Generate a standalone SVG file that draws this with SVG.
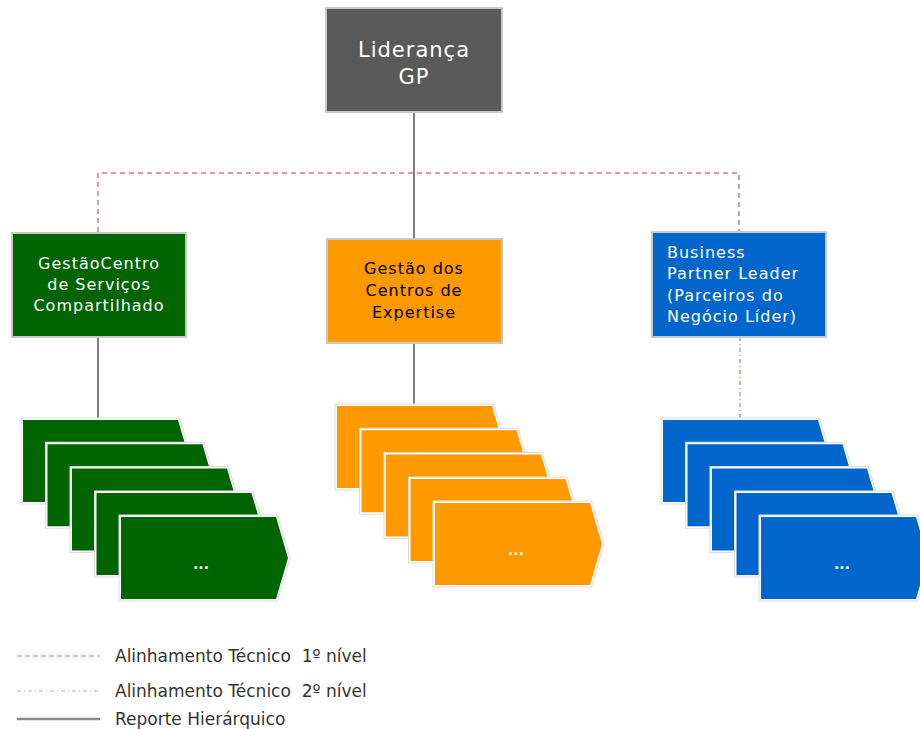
<svg xmlns="http://www.w3.org/2000/svg" xmlns:xlink="http://www.w3.org/1999/xlink" width="920" height="729" viewBox="0 0 920 729">
  <style>
    .box { stroke: #c8c8c8; stroke-width: 2; }
    .lbl { font-family: "DejaVu Sans", "Liberation Sans", sans-serif; font-size: 16px; letter-spacing: 1px; }
    .title { font-family: "DejaVu Sans", "Liberation Sans", sans-serif; font-size: 21px; letter-spacing: 1px; fill: #ffffff; text-anchor: middle; }
    .white { fill: #ffffff; }
    .black { fill: #000000; }
    .dots { font-family: "DejaVu Sans", sans-serif; font-weight: bold; font-size: 14px; fill: #ffffff; text-anchor: middle; }
    .halo { fill: none; stroke: #dcdcdc; stroke-width: 5; stroke-linejoin: miter; }
    .edge { fill: none; stroke: #ffffff; stroke-width: 3; stroke-linejoin: miter; }
    .solid { fill: none; stroke: #555555; stroke-width: 1.5; }
    .tech1 { fill: none; stroke: #c98080; stroke-width: 1.5; stroke-dasharray: 5 4; }
    .tech2 { fill: none; stroke: #8fb58f; stroke-width: 1.5; stroke-dasharray: 4 3 1 3; }
    .legend { font-family: "DejaVu Sans", "Liberation Sans", sans-serif; font-size: 17px; fill: #333333; white-space: pre; }
  </style>
  <defs>
    <!-- one pentagon card of a stack -->
    <path id="card" d="M0,0 H155 L167,41 L155,82 H0 Z"/>
  </defs>

  <rect width="920" height="729" fill="#ffffff"/>

  <!-- connectors -->
  <g id="connectors">
    <line class="solid" x1="414" y1="112" x2="414" y2="238"/>
    <polyline class="tech1" points="98,232 98,173 739,173 739,232"/>
    <line class="solid" x1="98" y1="337" x2="98" y2="420"/>
    <line class="solid" x1="414" y1="343" x2="414" y2="406"/>
    <line class="tech2" x1="740" y1="337" x2="740" y2="420"/>
  </g>

  <!-- top node -->
  <g id="lideranca">
    <rect class="box" x="326" y="8" width="176" height="104" fill="#595959"/>
    <text class="title" x="414" y="57">Liderança</text>
    <text class="title" x="414" y="84">GP</text>
  </g>

  <!-- second level -->
  <g id="csc">
    <rect class="box" x="12" y="233" width="174" height="104" fill="#006400"/>
    <text class="lbl white" text-anchor="middle" x="99" y="269">GestãoCentro</text>
    <text class="lbl white" text-anchor="middle" x="99" y="290">de Serviços</text>
    <text class="lbl white" text-anchor="middle" x="99" y="311">Compartilhado</text>
  </g>

  <g id="expertise">
    <rect class="box" x="327" y="239" width="175" height="104" fill="#ff9900"/>
    <text class="lbl black" text-anchor="middle" x="414" y="274">Gestão dos</text>
    <text class="lbl black" text-anchor="middle" x="414" y="296">Centros de</text>
    <text class="lbl black" text-anchor="middle" x="414" y="318">Expertise</text>
  </g>

  <g id="bp">
    <rect class="box" x="652" y="232" width="174" height="105" fill="#0066cc"/>
    <text class="lbl white" x="667" y="258">Business</text>
    <text class="lbl white" x="667" y="279">Partner Leader</text>
    <text class="lbl white" x="667" y="301">(Parceiros do</text>
    <text class="lbl white" x="667" y="322">Negócio Líder)</text>
  </g>

  <!-- card stacks -->
  <g id="stack-csc" fill="#006400">
    <g transform="translate(23,420)"><use href="#card" class="halo"/><use href="#card" class="edge"/><use href="#card"/></g>
    <g transform="translate(47.5,444.3)"><use href="#card" class="halo"/><use href="#card" class="edge"/><use href="#card"/></g>
    <g transform="translate(72,468.6)"><use href="#card" class="halo"/><use href="#card" class="edge"/><use href="#card"/></g>
    <g transform="translate(96.5,492.9)"><use href="#card" class="halo"/><use href="#card" class="edge"/><use href="#card"/></g>
    <g transform="translate(121,517)"><use href="#card" class="halo"/><use href="#card" class="edge"/><use href="#card"/></g>
    <text class="dots" x="201" y="569">...</text>
  </g>

  <g id="stack-expertise" fill="#ff9900">
    <g transform="translate(337,406)"><use href="#card" class="halo"/><use href="#card" class="edge"/><use href="#card"/></g>
    <g transform="translate(361.5,430.3)"><use href="#card" class="halo"/><use href="#card" class="edge"/><use href="#card"/></g>
    <g transform="translate(386,454.6)"><use href="#card" class="halo"/><use href="#card" class="edge"/><use href="#card"/></g>
    <g transform="translate(410.5,478.9)"><use href="#card" class="halo"/><use href="#card" class="edge"/><use href="#card"/></g>
    <g transform="translate(435,503)"><use href="#card" class="halo"/><use href="#card" class="edge"/><use href="#card"/></g>
    <text class="dots" x="516" y="555">...</text>
  </g>

  <g id="stack-bp" fill="#0066cc">
    <g transform="translate(663,420)"><use href="#card" class="halo"/><use href="#card" class="edge"/><use href="#card"/></g>
    <g transform="translate(687.5,444.3)"><use href="#card" class="halo"/><use href="#card" class="edge"/><use href="#card"/></g>
    <g transform="translate(712,468.6)"><use href="#card" class="halo"/><use href="#card" class="edge"/><use href="#card"/></g>
    <g transform="translate(736.5,492.9)"><use href="#card" class="halo"/><use href="#card" class="edge"/><use href="#card"/></g>
    <g transform="translate(761,517)"><use href="#card" class="halo"/><use href="#card" class="edge"/><use href="#card"/></g>
    <text class="dots" x="842" y="569">...</text>
  </g>

  <!-- legend -->
  <g id="legend">
    <line x1="17" y1="656" x2="100" y2="656" stroke="#f07070" stroke-width="1.2" stroke-dasharray="5 3"/>
    <text class="legend" x="115" y="662">Alinhamento Técnico  1º nível</text>
    <line x1="17" y1="691" x2="100" y2="691" stroke="#9cc09c" stroke-width="1.2" stroke-dasharray="4 3 1 3"/>
    <text class="legend" x="115" y="697">Alinhamento Técnico  2º nível</text>
    <line x1="17" y1="719" x2="100" y2="719" stroke="#888888" stroke-width="2.5"/>
    <text class="legend" x="115" y="725">Reporte Hierárquico</text>
  </g>
</svg>
